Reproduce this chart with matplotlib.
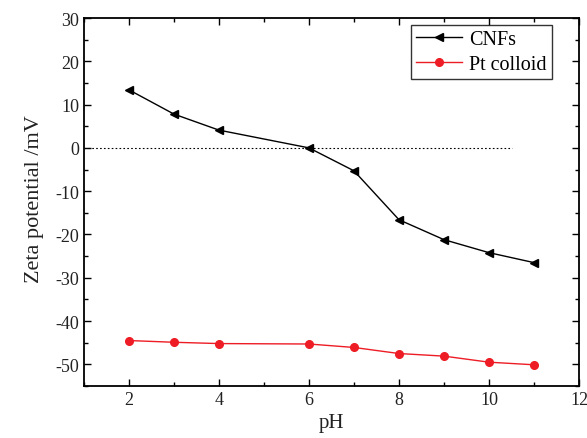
import matplotlib
matplotlib.use("Agg")
import matplotlib.pyplot as plt
from matplotlib.ticker import MultipleLocator

plt.rcParams['font.family'] = ['Liberation Serif', 'DejaVu Serif']
plt.rcParams['axes.unicode_minus'] = False

ph_cnf = [2, 3, 4, 6, 7, 8, 9, 10, 11]
zeta_cnf = [13.4, 7.8, 4.1, 0.0, -5.3, -16.6, -21.2, -24.2, -26.5]
ph_pt = [2, 3, 4, 6, 7, 8, 9, 10, 11]
zeta_pt = [-44.5, -44.9, -45.2, -45.3, -46.1, -47.5, -48.1, -49.5, -50.1]
zero_x = [1, 10.5]
zero_y = [0, 0]

fig = plt.figure(figsize=(5.87, 4.39), dpi=100)
ax = fig.add_axes([84/587, 1-387/439, (579-84)/587, (387-19)/439])

ax.plot(zero_x, zero_y, color='black', linestyle=(0, (1.5, 2)), linewidth=0.8)
ax.plot(ph_cnf, zeta_cnf, color='black', marker='<', markersize=6, linewidth=1.0, label='CNFs')
ax.plot(ph_pt, zeta_pt, color='#ee1c25', marker='o', markersize=5.5, linewidth=1.0, label='Pt colloid')

ax.set_xlim(1, 12)
ax.set_ylim(-55, 30)
ax.xaxis.set_major_locator(MultipleLocator(2))
ax.xaxis.set_minor_locator(MultipleLocator(1))
ax.yaxis.set_major_locator(MultipleLocator(10))
ax.yaxis.set_minor_locator(MultipleLocator(5))
ax.tick_params(which='both', direction='in', top=True, right=True, labelsize=13, colors='black')
ax.tick_params(axis='both', which='major', labelcolor='#222222')
ax.tick_params(which='major', length=5, width=1)
ax.tick_params(which='minor', length=3, width=1)
for s in ax.spines.values():
    s.set_linewidth(1.3)

ax.set_xlabel('pH', fontsize=15, labelpad=4, color='#222222')
ax.set_ylabel('Zeta potential /mV', fontsize=16, labelpad=8, color='#222222', y=0.51)

leg = ax.legend(loc='upper right', bbox_to_anchor=(0.945, 0.981), fontsize=14.5,
                frameon=True, fancybox=False, edgecolor='black', handlelength=2.3,
                borderaxespad=0.0, borderpad=0.25, labelspacing=0.28, handletextpad=0.35)
leg.get_frame().set_linewidth(1.0)

fig.savefig('out.png', dpi=100)
